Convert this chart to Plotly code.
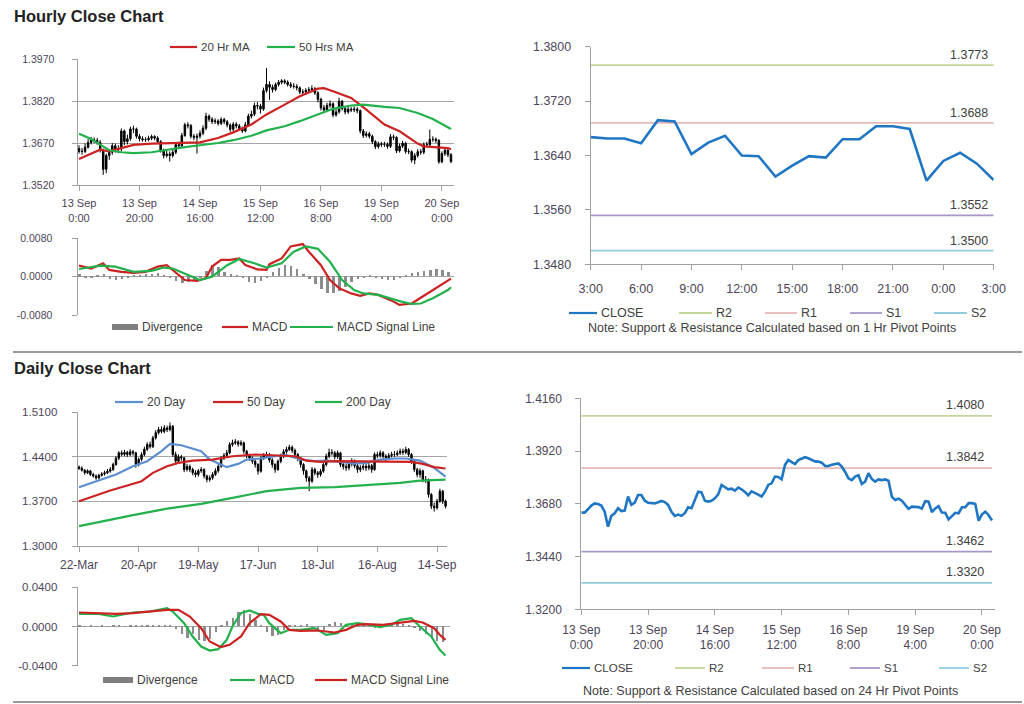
import plotly.graph_objects as go

W, H = 1024, 704
FONT = "Liberation Sans, Arial, sans-serif"
TXT = "#404040"
TICK = "#4d4559"
AX = "#a0a0a0"

# ---------------- hourly data (13 Sep 0:00 .. 20 Sep 3:00) ----------------
hourly_tick_pos = [0, 20, 40, 60, 80, 100, 120]
hourly_tick_text = ["13 Sep<br>0:00", "13 Sep<br>20:00", "14 Sep<br>16:00", "15 Sep<br>12:00",
                    "16 Sep<br>8:00", "19 Sep<br>4:00", "20 Sep<br>0:00"]
hourly_price_ticks = [1.3520, 1.3670, 1.3820, 1.3970]
hourly_macd_ticks = [-0.0080, 0.0000, 0.0080]

hourly_open = [
    1.3650, 1.3640, 1.3640, 1.3655, 1.3672, 1.3682, 1.3679, 1.3672, 1.3644, 1.3576,
    1.3625, 1.3637, 1.3660, 1.3647, 1.3649, 1.3713, 1.3675, 1.3685, 1.3720, 1.3720,
    1.3694, 1.3685, 1.3682, 1.3682, 1.3687, 1.3693, 1.3688, 1.3675, 1.3644, 1.3625,
    1.3631, 1.3625, 1.3637, 1.3664, 1.3660, 1.3697, 1.3735, 1.3732, 1.3694, 1.3690,
    1.3694, 1.3705, 1.3723, 1.3766, 1.3755, 1.3746, 1.3749, 1.3740, 1.3754, 1.3746,
    1.3734, 1.3719, 1.3737, 1.3731, 1.3722, 1.3713, 1.3735, 1.3766, 1.3773, 1.3804,
    1.3802, 1.3791, 1.3857, 1.3879, 1.3869, 1.3861, 1.3879, 1.3887, 1.3892, 1.3887,
    1.3879, 1.3873, 1.3872, 1.3867, 1.3852, 1.3852, 1.3858, 1.3861, 1.3864, 1.3849,
    1.3826, 1.3796, 1.3788, 1.3804, 1.3810, 1.3770, 1.3781, 1.3819, 1.3793, 1.3781,
    1.3791, 1.3788, 1.3791, 1.3785, 1.3713, 1.3697, 1.3703, 1.3694, 1.3675, 1.3657,
    1.3667, 1.3665, 1.3665, 1.3658, 1.3692, 1.3690, 1.3642, 1.3659, 1.3669, 1.3640,
    1.3639, 1.3609, 1.3625, 1.3639, 1.3637, 1.3664, 1.3664, 1.3683, 1.3683, 1.3679,
    1.3603, 1.3632, 1.3644, 1.3628]
hourly_high = [
    1.3662, 1.3652, 1.3668, 1.3684, 1.3692, 1.3690, 1.3688, 1.3680, 1.3650, 1.3632,
    1.3648, 1.3670, 1.3668, 1.3662, 1.3722, 1.3718, 1.3700, 1.3728, 1.3732, 1.3725,
    1.3702, 1.3694, 1.3690, 1.3696, 1.3700, 1.3698, 1.3694, 1.3680, 1.3650, 1.3642,
    1.3640, 1.3646, 1.3672, 1.3674, 1.3706, 1.3742, 1.3744, 1.3738, 1.3702, 1.3704,
    1.3715, 1.3733, 1.3778, 1.3772, 1.3762, 1.3758, 1.3755, 1.3762, 1.3760, 1.3752,
    1.3740, 1.3745, 1.3744, 1.3738, 1.3728, 1.3745, 1.3775, 1.3786, 1.3814, 1.3816,
    1.3810, 1.3868, 1.3938, 1.3890, 1.3878, 1.3886, 1.3895, 1.3898, 1.3898, 1.3894,
    1.3888, 1.3884, 1.3880, 1.3872, 1.3862, 1.3866, 1.3870, 1.3876, 1.3870, 1.3855,
    1.3832, 1.3806, 1.3814, 1.3822, 1.3815, 1.3792, 1.3832, 1.3824, 1.3800, 1.3800,
    1.3798, 1.3800, 1.3798, 1.3790, 1.3720, 1.3712, 1.3710, 1.3700, 1.3680, 1.3675,
    1.3674, 1.3674, 1.3672, 1.3702, 1.3700, 1.3694, 1.3668, 1.3678, 1.3674, 1.3650,
    1.3644, 1.3634, 1.3648, 1.3648, 1.3672, 1.3674, 1.3718, 1.3694, 1.3690, 1.3684,
    1.3640, 1.3652, 1.3650, 1.3634]
hourly_low = [
    1.3632, 1.3628, 1.3634, 1.3650, 1.3665, 1.3670, 1.3664, 1.3636, 1.3556, 1.3562,
    1.3610, 1.3628, 1.3636, 1.3634, 1.3640, 1.3662, 1.3665, 1.3678, 1.3705, 1.3686,
    1.3676, 1.3675, 1.3674, 1.3676, 1.3680, 1.3680, 1.3668, 1.3636, 1.3615, 1.3618,
    1.3604, 1.3618, 1.3630, 1.3650, 1.3655, 1.3692, 1.3722, 1.3686, 1.3680, 1.3632,
    1.3686, 1.3698, 1.3716, 1.3746, 1.3738, 1.3738, 1.3732, 1.3734, 1.3738, 1.3726,
    1.3710, 1.3712, 1.3722, 1.3714, 1.3706, 1.3708, 1.3730, 1.3758, 1.3766, 1.3790,
    1.3776, 1.3785, 1.3850, 1.3824, 1.3850, 1.3855, 1.3872, 1.3880, 1.3880, 1.3872,
    1.3866, 1.3864, 1.3858, 1.3845, 1.3842, 1.3846, 1.3850, 1.3855, 1.3842, 1.3815,
    1.3786, 1.3778, 1.3780, 1.3796, 1.3762, 1.3764, 1.3775, 1.3786, 1.3772, 1.3774,
    1.3780, 1.3780, 1.3776, 1.3704, 1.3688, 1.3690, 1.3686, 1.3666, 1.3648, 1.3650,
    1.3656, 1.3656, 1.3650, 1.3652, 1.3680, 1.3634, 1.3636, 1.3652, 1.3632, 1.3630,
    1.3600, 1.3594, 1.3618, 1.3628, 1.3630, 1.3655, 1.3658, 1.3674, 1.3670, 1.3596,
    1.3598, 1.3624, 1.3620, 1.3598]
hourly_close = [
    1.3640, 1.3640, 1.3655, 1.3672, 1.3682, 1.3679, 1.3672, 1.3644, 1.3576, 1.3625,
    1.3637, 1.3660, 1.3647, 1.3649, 1.3713, 1.3675, 1.3685, 1.3720, 1.3720, 1.3694,
    1.3685, 1.3682, 1.3682, 1.3687, 1.3693, 1.3688, 1.3675, 1.3644, 1.3625, 1.3631,
    1.3625, 1.3637, 1.3664, 1.3660, 1.3697, 1.3735, 1.3732, 1.3694, 1.3690, 1.3694,
    1.3705, 1.3723, 1.3766, 1.3755, 1.3746, 1.3749, 1.3740, 1.3754, 1.3746, 1.3734,
    1.3719, 1.3737, 1.3731, 1.3722, 1.3713, 1.3735, 1.3766, 1.3773, 1.3804, 1.3802,
    1.3791, 1.3857, 1.3879, 1.3869, 1.3861, 1.3879, 1.3887, 1.3892, 1.3887, 1.3879,
    1.3873, 1.3872, 1.3867, 1.3852, 1.3852, 1.3858, 1.3861, 1.3864, 1.3849, 1.3826,
    1.3796, 1.3788, 1.3804, 1.3810, 1.3770, 1.3781, 1.3819, 1.3793, 1.3781, 1.3791,
    1.3788, 1.3791, 1.3785, 1.3713, 1.3697, 1.3703, 1.3694, 1.3675, 1.3657, 1.3667,
    1.3665, 1.3665, 1.3658, 1.3692, 1.3690, 1.3642, 1.3659, 1.3669, 1.3640, 1.3639,
    1.3609, 1.3625, 1.3639, 1.3637, 1.3664, 1.3664, 1.3683, 1.3683, 1.3679, 1.3603,
    1.3632, 1.3644, 1.3628, 1.3604]

ma20h_idx = [0, 7, 10, 14, 18, 24, 29, 35, 40, 46, 51, 57, 62, 68, 73, 79, 81, 84, 90, 95, 101, 106, 112, 114, 117, 122, 123]
ma20h_val = [1.3613, 1.3646, 1.3640, 1.3652, 1.3663, 1.3668, 1.3670, 1.3670, 1.3672, 1.3688, 1.3708, 1.3736, 1.3772,
             1.3807, 1.3837, 1.3864, 1.3866, 1.3855, 1.3831, 1.3789, 1.3736, 1.3712, 1.3668, 1.3658, 1.3656, 1.3652, 1.3648]
ma50h_idx = [0, 4, 7, 10, 14, 18, 24, 29, 35, 40, 46, 51, 57, 62, 68, 73, 79, 84, 90, 94, 101, 106, 112, 117, 123]
ma50h_val = [1.3703, 1.3684, 1.3664, 1.3644, 1.3637, 1.3634, 1.3637, 1.3646, 1.3655, 1.3662, 1.3670, 1.3680, 1.3696,
             1.3715, 1.3730, 1.3748, 1.3771, 1.3792, 1.3804, 1.3807, 1.3799, 1.3795, 1.3777, 1.3756, 1.3720]

macdh_idx = [0, 4, 8, 10, 14, 18, 22, 26, 29, 31, 35, 39, 42, 44, 47, 50, 53, 55, 59, 62, 63, 67, 70, 74, 76, 80,
             83, 86, 90, 93, 96, 99, 103, 106, 110, 113, 117, 121, 123]
macdh_val = [0.0023, 0.0017, 0.0028, 0.0014, 0.0010, 0.0008, 0.0010, 0.0021, 0.0024, 0.0014, -0.0007, -0.0009, -0.0003,
             0.0021, 0.0035, 0.0035, 0.0038, 0.0024, 0.0015, 0.0014, 0.0026, 0.0038, 0.0063, 0.0068, 0.0052, 0.0024,
             -0.0007, -0.0024, -0.0035, -0.0040, -0.0035, -0.0038, -0.0049, -0.0059, -0.0056, -0.0044, -0.0028, -0.0013, -0.0004]
sigh_idx = [0, 7, 12, 18, 24, 28, 31, 36, 40, 44, 49, 53, 58, 62, 67, 71, 75, 79, 83, 87, 91, 94, 99, 106, 110, 113, 117, 122, 123]
sigh_val = [0.0016, 0.0023, 0.0021, 0.0010, 0.0012, 0.0019, 0.0017, 0.0003, -0.0007, 0.0000, 0.0024, 0.0037, 0.0028,
            0.0019, 0.0028, 0.0052, 0.0063, 0.0058, 0.0031, -0.0007, -0.0028, -0.0035, -0.0038, -0.0051, -0.0057,
            -0.0056, -0.0045, -0.0028, -0.0022]
divh_idx = list(range(0, 124, 2))
divh_val = [0.0004, -0.0002, -0.0003, 0.0003, 0.0004, -0.0005, -0.0007, -0.0006, -0.0003, 0.0002,
            0.0003, 0.0004, 0.0005, 0.0006, 0.0003, -0.0004, -0.0010, -0.0014, -0.0012, -0.0008,
            -0.0002, 0.0012, 0.0024, 0.0020, 0.0010, 0.0004, 0.0002, -0.0004, -0.0012, -0.0014,
            -0.0010, -0.0004, 0.0010, 0.0018, 0.0024, 0.0022, 0.0015, 0.0005, -0.0006, -0.0016,
            -0.0026, -0.0034, -0.0034, -0.0030, -0.0022, -0.0012, -0.0006, -0.0002, 0.0002, -0.0002,
            -0.0006, -0.0008, -0.0008, -0.0004, 0.0003, 0.0006, 0.0009, 0.0012, 0.0014, 0.0016,
            0.0013, 0.0010]

# ---------------- 1 Hr pivot chart (last 25 hourly closes) ----------------
pivot_hour_pos = [0, 3, 6, 9, 12, 15, 18, 21, 24]
pivot_hour_text = ["3:00", "6:00", "9:00", "12:00", "15:00", "18:00", "21:00", "0:00", "3:00"]
pivot_1h_ticks = [1.3480, 1.3560, 1.3640, 1.3720, 1.3800]
pivot_24h_ticks = [1.3200, 1.3440, 1.3680, 1.3920, 1.4160]
pivot_names = ["R2", "R1", "S1", "S2"]
pivot_colors = ["#c4d79b", "#e6b9b8", "#a896c8", "#93cddd"]
pivot_1h_levels = [1.3773, 1.3688, 1.3552, 1.3500]
pivot_24h_levels = [1.4080, 1.3842, 1.3462, 1.3320]

# ---------------- daily data (22-Mar .. 20-Sep) ----------------
daily_tick_pos = [0, 21, 42, 63, 84, 105, 126]
daily_tick_text = ["22-Mar", "20-Apr", "19-May", "17-Jun", "18-Jul", "16-Aug", "14-Sep"]
daily_price_ticks = [1.3000, 1.3700, 1.4400, 1.5100]
daily_macd_ticks = [-0.0400, 0.0000, 0.0400]

daily_open = [
    1.4240, 1.4220, 1.4190, 1.4150, 1.4180, 1.4123, 1.4100, 1.4070, 1.4110, 1.4130,
    1.4150, 1.4175, 1.4200, 1.4280, 1.4380, 1.4463, 1.4440, 1.4470, 1.4437, 1.4480,
    1.4463, 1.4280, 1.4360, 1.4437, 1.4520, 1.4594, 1.4560, 1.4698, 1.4780, 1.4829,
    1.4800, 1.4855, 1.4830, 1.4882, 1.4437, 1.4332, 1.4400, 1.4384, 1.4201, 1.4250,
    1.4201, 1.4150, 1.4123, 1.4180, 1.4201, 1.4100, 1.4044, 1.4070, 1.4123, 1.4180,
    1.4253, 1.4384, 1.4420, 1.4463, 1.4594, 1.4620, 1.4636, 1.4600, 1.4620, 1.4489,
    1.4420, 1.4384, 1.4330, 1.4280, 1.4175, 1.4384, 1.4420, 1.4437, 1.4350, 1.4280,
    1.4201, 1.4330, 1.4410, 1.4480, 1.4515, 1.4552, 1.4500, 1.4437, 1.4380, 1.4280,
    1.4180, 1.4070, 1.4018, 1.4201, 1.4150, 1.4123, 1.4175, 1.4280, 1.4410, 1.4470,
    1.4463, 1.4400, 1.4463, 1.4280, 1.4250, 1.4227, 1.4290, 1.4332, 1.4260, 1.4201,
    1.4230, 1.4253, 1.4227, 1.4260, 1.4201, 1.4437, 1.4420, 1.4463, 1.4410, 1.4384,
    1.4420, 1.4437, 1.4437, 1.4460, 1.4489, 1.4470, 1.4515, 1.4437, 1.4332, 1.4201,
    1.4123, 1.4180, 1.4044, 1.4044, 1.3808, 1.3625, 1.3599, 1.3704, 1.3861, 1.3704]
daily_high = [
    1.4265, 1.4250, 1.4210, 1.4205, 1.4195, 1.4150, 1.4125, 1.4135, 1.4160, 1.4185,
    1.4210, 1.4240, 1.4310, 1.4410, 1.4490, 1.4500, 1.4510, 1.4495, 1.4520, 1.4510,
    1.4480, 1.4390, 1.4470, 1.4560, 1.4630, 1.4640, 1.4730, 1.4820, 1.4870, 1.4880,
    1.4900, 1.4890, 1.4940, 1.4900, 1.4480, 1.4440, 1.4430, 1.4400, 1.4290, 1.4280,
    1.4230, 1.4190, 1.4210, 1.4240, 1.4220, 1.4120, 1.4110, 1.4160, 1.4220, 1.4290,
    1.4410, 1.4460, 1.4510, 1.4630, 1.4670, 1.4680, 1.4660, 1.4660, 1.4640, 1.4510,
    1.4450, 1.4410, 1.4360, 1.4300, 1.4410, 1.4460, 1.4480, 1.4460, 1.4380, 1.4300,
    1.4360, 1.4450, 1.4520, 1.4560, 1.4590, 1.4580, 1.4530, 1.4460, 1.4400, 1.4300,
    1.4200, 1.4100, 1.4240, 1.4230, 1.4180, 1.4210, 1.4310, 1.4450, 1.4530, 1.4520,
    1.4490, 1.4500, 1.4480, 1.4320, 1.4290, 1.4330, 1.4380, 1.4360, 1.4290, 1.4270,
    1.4300, 1.4290, 1.4310, 1.4290, 1.4470, 1.4480, 1.4500, 1.4490, 1.4440, 1.4460,
    1.4480, 1.4490, 1.4500, 1.4530, 1.4530, 1.4560, 1.4540, 1.4460, 1.4360, 1.4230,
    1.4220, 1.4200, 1.4100, 1.4060, 1.3830, 1.3680, 1.3740, 1.3900, 1.3880, 1.3730]
daily_low = [
    1.4195, 1.4170, 1.4120, 1.4130, 1.4100, 1.4075, 1.4040, 1.4050, 1.4090, 1.4105,
    1.4130, 1.4150, 1.4180, 1.4260, 1.4350, 1.4410, 1.4410, 1.4400, 1.4410, 1.4420,
    1.4230, 1.4250, 1.4330, 1.4410, 1.4490, 1.4530, 1.4540, 1.4670, 1.4750, 1.4770,
    1.4770, 1.4790, 1.4800, 1.4400, 1.4290, 1.4300, 1.4340, 1.4160, 1.4170, 1.4160,
    1.4110, 1.4080, 1.4090, 1.4150, 1.4060, 1.4000, 1.4010, 1.4040, 1.4100, 1.4150,
    1.4230, 1.4350, 1.4390, 1.4440, 1.4560, 1.4590, 1.4560, 1.4570, 1.4450, 1.4380,
    1.4340, 1.4290, 1.4230, 1.4120, 1.4150, 1.4350, 1.4390, 1.4310, 1.4230, 1.4150,
    1.4180, 1.4300, 1.4380, 1.4450, 1.4490, 1.4460, 1.4400, 1.4330, 1.4230, 1.4120,
    1.4010, 1.3860, 1.3990, 1.4110, 1.4070, 1.4090, 1.4150, 1.4250, 1.4380, 1.4420,
    1.4360, 1.4370, 1.4240, 1.4200, 1.4180, 1.4190, 1.4250, 1.4220, 1.4150, 1.4160,
    1.4190, 1.4180, 1.4190, 1.4150, 1.4180, 1.4380, 1.4390, 1.4370, 1.4330, 1.4350,
    1.4390, 1.4400, 1.4410, 1.4430, 1.4430, 1.4440, 1.4400, 1.4290, 1.4160, 1.4080,
    1.4070, 1.4000, 1.3990, 1.3760, 1.3580, 1.3540, 1.3570, 1.3680, 1.3660, 1.3590]
daily_close = [
    1.4220, 1.4190, 1.4150, 1.4180, 1.4123, 1.4100, 1.4070, 1.4110, 1.4130, 1.4150,
    1.4175, 1.4200, 1.4280, 1.4380, 1.4463, 1.4440, 1.4470, 1.4437, 1.4480, 1.4463,
    1.4280, 1.4360, 1.4437, 1.4520, 1.4594, 1.4560, 1.4698, 1.4780, 1.4829, 1.4800,
    1.4855, 1.4830, 1.4882, 1.4437, 1.4332, 1.4400, 1.4384, 1.4201, 1.4250, 1.4201,
    1.4150, 1.4123, 1.4180, 1.4201, 1.4100, 1.4044, 1.4070, 1.4123, 1.4180, 1.4253,
    1.4384, 1.4420, 1.4463, 1.4594, 1.4620, 1.4636, 1.4600, 1.4620, 1.4489, 1.4420,
    1.4384, 1.4330, 1.4280, 1.4175, 1.4384, 1.4420, 1.4437, 1.4350, 1.4280, 1.4201,
    1.4330, 1.4410, 1.4480, 1.4515, 1.4552, 1.4500, 1.4437, 1.4380, 1.4280, 1.4180,
    1.4070, 1.4018, 1.4201, 1.4150, 1.4123, 1.4175, 1.4280, 1.4410, 1.4470, 1.4463,
    1.4400, 1.4463, 1.4280, 1.4250, 1.4227, 1.4290, 1.4332, 1.4260, 1.4201, 1.4230,
    1.4253, 1.4227, 1.4260, 1.4201, 1.4437, 1.4420, 1.4463, 1.4410, 1.4384, 1.4420,
    1.4437, 1.4437, 1.4460, 1.4489, 1.4470, 1.4515, 1.4437, 1.4332, 1.4201, 1.4123,
    1.4180, 1.4044, 1.4044, 1.3808, 1.3625, 1.3599, 1.3704, 1.3861, 1.3704, 1.3625]

ma20d_idx = [0, 7, 13, 19, 24, 29, 32, 36, 39, 43, 46, 50, 52, 56, 59, 64, 69, 73, 78, 83, 87, 92, 97, 101, 106, 111, 115, 120, 125, 129]
ma20d_val = [1.3924, 1.4028, 1.4123, 1.4253, 1.4332, 1.4489, 1.4604, 1.4583, 1.4541, 1.4489, 1.4358, 1.4280, 1.4238,
             1.4290, 1.4358, 1.4374, 1.4410, 1.4426, 1.4358, 1.4332, 1.4342, 1.4321, 1.4295, 1.4306, 1.4358, 1.4374,
             1.4374, 1.4342, 1.4227, 1.4090]
ma50d_idx = [0, 5, 11, 17, 22, 26, 31, 35, 40, 47, 54, 62, 69, 76, 80, 85, 90, 97, 104, 111, 117, 121, 125, 129]
ma50d_val = [1.3704, 1.3782, 1.3871, 1.3950, 1.4018, 1.4149, 1.4253, 1.4306, 1.4342, 1.4358, 1.4410, 1.4437, 1.4421,
             1.4410, 1.4342, 1.4321, 1.4332, 1.4332, 1.4321, 1.4321, 1.4321, 1.4290, 1.4238, 1.4217]
ma200d_idx = [0, 7, 19, 31, 43, 54, 66, 78, 90, 101, 113, 120, 129]
ma200d_val = [1.3311, 1.3379, 1.3484, 1.3588, 1.3662, 1.3756, 1.3861, 1.3913, 1.3924, 1.3955, 1.3992, 1.4028, 1.4044]

macdd_idx = [0, 7, 12, 19, 25, 31, 33, 37, 40, 43, 46, 49, 52, 54, 57, 60, 63, 65, 67, 71, 74, 78, 83, 87, 91, 94,
             98, 101, 106, 110, 113, 117, 120, 124, 127, 129]
macdd_val = [0.0129, 0.0129, 0.0102, 0.0143, 0.0153, 0.0187, 0.0153, 0.0034, -0.0102, -0.0204, -0.0245, -0.0231,
             -0.0136, 0.0000, 0.0136, 0.0163, 0.0129, 0.0119, 0.0034, -0.0068, -0.0034, -0.0034, -0.0017, -0.0085,
             -0.0068, 0.0017, 0.0034, 0.0024, -0.0007, 0.0017, 0.0068, 0.0085, 0.0000, -0.0102, -0.0238, -0.0295]
sigd_idx = [0, 7, 13, 19, 25, 31, 35, 39, 43, 46, 50, 53, 57, 60, 64, 67, 71, 74, 78, 84, 90, 94, 98, 101, 107,
            113, 118, 121, 125, 127, 129]
sigd_val = [0.0143, 0.0136, 0.0129, 0.0136, 0.0153, 0.0170, 0.0170, 0.0102, -0.0017, -0.0153, -0.0211, -0.0187,
            -0.0102, 0.0034, 0.0126, 0.0119, 0.0051, -0.0034, -0.0044, -0.0041, -0.0061, -0.0034, 0.0017, 0.0024,
            0.0017, 0.0041, 0.0058, 0.0041, -0.0017, -0.0085, -0.0136]
divd_idx = list(range(0, 130, 2))
divd_val = [0.0005, -0.0005, 0.0003, -0.0004, 0.0006, -0.0006, 0.0004, 0.0005, -0.0003, 0.0004,
            0.0006, 0.0005, 0.0008, 0.0010, 0.0006, 0.0012, 0.0010, -0.0030, -0.0080, -0.0120,
            -0.0080, -0.0140, -0.0155, -0.0130, -0.0060, 0.0010, 0.0050, 0.0080, 0.0140, 0.0170,
            0.0120, 0.0060, 0.0010, -0.0060, -0.0100, -0.0090, -0.0040, 0.0010, 0.0008, 0.0012,
            0.0020, -0.0020, -0.0030, -0.0040, 0.0025, 0.0040, 0.0035, 0.0020, 0.0010, 0.0008,
            0.0005, -0.0008, -0.0010, 0.0008, 0.0015, 0.0020, 0.0028, 0.0022, 0.0010, -0.0020,
            -0.0050, -0.0080, -0.0110, -0.0150, -0.0160]

# ---------------- colours ----------------
RED = "#cc2222"
GREEN = "#22b14c"
LBLUE = "#5b8fd0"
CLOSE_BLUE = "#1f77c4"
GRAY = "#8c8c8c"

hourly_idx = list(range(len(hourly_close)))
daily_idx = list(range(len(daily_close)))
pivot_close = hourly_close[-25:]
pivot_idx = list(range(len(pivot_close)))


def dx(a, b):
    return [a / W, b / W]


def dy(top, bottom):
    return [1 - bottom / H, 1 - top / H]


def fmt(vals):
    return [f"{v:.4f}" for v in vals]


fig = go.Figure()

candle_style = dict(
    increasing=dict(line=dict(color="#000000", width=1), fillcolor="#000000"),
    decreasing=dict(line=dict(color="#000000", width=1), fillcolor="#000000"),
    whiskerwidth=0, showlegend=False, hoverinfo="skip")

# hourly candles + MAs
fig.add_trace(go.Candlestick(x=hourly_idx, open=hourly_open, high=hourly_high, low=hourly_low,
                             close=hourly_close, xaxis="x", yaxis="y", **candle_style))
fig.add_trace(go.Scatter(x=ma20h_idx, y=ma20h_val, mode="lines", line=dict(color=RED, width=2.2),
                         xaxis="x", yaxis="y", showlegend=False))
fig.add_trace(go.Scatter(x=ma50h_idx, y=ma50h_val, mode="lines", line=dict(color=GREEN, width=2.2),
                         xaxis="x", yaxis="y", showlegend=False))

# hourly MACD
fig.add_trace(go.Bar(x=divh_idx, y=divh_val, marker=dict(color=GRAY, line=dict(width=0)), width=0.8,
                     xaxis="x2", yaxis="y2", showlegend=False))
fig.add_trace(go.Scatter(x=macdh_idx, y=macdh_val, mode="lines", line=dict(color=RED, width=2.2),
                         xaxis="x2", yaxis="y2", showlegend=False))
fig.add_trace(go.Scatter(x=sigh_idx, y=sigh_val, mode="lines", line=dict(color=GREEN, width=2.2),
                         xaxis="x2", yaxis="y2", showlegend=False))

# daily candles + MAs
fig.add_trace(go.Candlestick(x=daily_idx, open=daily_open, high=daily_high, low=daily_low,
                             close=daily_close, xaxis="x3", yaxis="y3", **candle_style))
fig.add_trace(go.Scatter(x=ma20d_idx, y=ma20d_val, mode="lines", line=dict(color=LBLUE, width=2.2),
                         xaxis="x3", yaxis="y3", showlegend=False))
fig.add_trace(go.Scatter(x=ma50d_idx, y=ma50d_val, mode="lines", line=dict(color=RED, width=2.2),
                         xaxis="x3", yaxis="y3", showlegend=False))
fig.add_trace(go.Scatter(x=ma200d_idx, y=ma200d_val, mode="lines", line=dict(color=GREEN, width=2.2),
                         xaxis="x3", yaxis="y3", showlegend=False))

# daily MACD
fig.add_trace(go.Bar(x=divd_idx, y=divd_val, marker=dict(color=GRAY, line=dict(width=0)), width=0.8,
                     xaxis="x4", yaxis="y4", showlegend=False))
fig.add_trace(go.Scatter(x=macdd_idx, y=macdd_val, mode="lines", line=dict(color=GREEN, width=2.2),
                         xaxis="x4", yaxis="y4", showlegend=False))
fig.add_trace(go.Scatter(x=sigd_idx, y=sigd_val, mode="lines", line=dict(color=RED, width=2.2),
                         xaxis="x4", yaxis="y4", showlegend=False))

annotations = []
shapes = []

# 1 Hr pivot chart
for name, col, lvl in zip(pivot_names, pivot_colors, pivot_1h_levels):
    fig.add_trace(go.Scatter(x=[pivot_idx[0], pivot_idx[-1]], y=[lvl, lvl], mode="lines",
                             line=dict(color=col, width=1.8), xaxis="x5", yaxis="y5", showlegend=False))
    annotations.append(dict(text=f"{lvl:.4f}", xref="x5", yref="y5", x=pivot_idx[-1] - 1.5, y=lvl, yshift=10,
                            xanchor="center", showarrow=False, font=dict(family=FONT, size=12.5, color=TXT)))
fig.add_trace(go.Scatter(x=pivot_idx, y=pivot_close, mode="lines", line=dict(color=CLOSE_BLUE, width=2.6),
                         xaxis="x5", yaxis="y5", showlegend=False))

# 24 Hr pivot chart
for name, col, lvl in zip(pivot_names, pivot_colors, pivot_24h_levels):
    fig.add_trace(go.Scatter(x=[hourly_idx[0], hourly_idx[-1]], y=[lvl, lvl], mode="lines",
                             line=dict(color=col, width=1.8), xaxis="x6", yaxis="y6", showlegend=False))
    annotations.append(dict(text=f"{lvl:.4f}", xref="x6", yref="y6", x=hourly_idx[-1] - 8, y=lvl, yshift=11,
                            xanchor="center", showarrow=False, font=dict(family=FONT, size=12.5, color=TXT)))
fig.add_trace(go.Scatter(x=hourly_idx, y=hourly_close, mode="lines", line=dict(color=CLOSE_BLUE, width=2.6),
                         xaxis="x6", yaxis="y6", showlegend=False))


def legend_item(label, color, x0, x1, y, size=11.5, width=2.2):
    shapes.append(dict(type="line", xref="paper", yref="paper", x0=x0 / W, x1=x1 / W,
                       y0=1 - y / H, y1=1 - y / H, line=dict(color=color, width=width)))
    annotations.append(dict(text=label, xref="paper", yref="paper", x=(x1 + 2) / W, y=1 - y / H,
                            xanchor="left", yanchor="middle", showarrow=False,
                            font=dict(family=FONT, size=size, color=TXT)))


legend_item("20 Hr MA", RED, 170, 197, 47)
legend_item("50 Hrs MA", GREEN, 267, 295, 47)
legend_item("Divergence", "#7f7f7f", 112, 138, 327, size=12, width=6)
legend_item("MACD", RED, 222, 248, 327, size=12)
legend_item("MACD Signal Line", GREEN, 290, 333, 327, size=12)
legend_item("20 Day", LBLUE, 115, 143, 402, size=12)
legend_item("50 Day", RED, 213, 243, 402, size=12)
legend_item("200 Day", GREEN, 315, 342, 402, size=12)
legend_item("Divergence", "#7f7f7f", 103, 133, 680, size=12, width=6)
legend_item("MACD", GREEN, 230, 255, 680, size=12)
legend_item("MACD Signal Line", RED, 315, 347, 680, size=12)
legend_item("CLOSE", CLOSE_BLUE, 569, 597, 313, size=12.5)
for name, col, x0, x1 in zip(pivot_names, pivot_colors, [679, 765, 850, 934], [712, 797, 882, 967]):
    legend_item(name, col, x0, x1, 313, size=12.5, width=1.8)
legend_item("CLOSE", CLOSE_BLUE, 562, 590, 668, size=11.5)
for name, col, x0, x1 in zip(pivot_names, pivot_colors, [675, 762, 850, 939], [705, 794, 880, 969]):
    legend_item(name, col, x0, x1, 668, size=11.5, width=1.8)

annotations.append(dict(text="Note: Support & Resistance Calculated based on 1 Hr Pivot Points", xref="paper",
                        yref="paper", x=772 / W, y=1 - 328 / H, xanchor="center", yanchor="middle",
                        showarrow=False, font=dict(family=FONT, size=12.5, color=TXT)))
annotations.append(dict(text="Note: Support & Resistance Calculated based on 24 Hr Pivot Points", xref="paper",
                        yref="paper", x=770 / W, y=1 - 691 / H, xanchor="center", yanchor="middle",
                        showarrow=False, font=dict(family=FONT, size=12.5, color=TXT)))
annotations.append(dict(text="<b>Hourly Close Chart</b>", xref="paper", yref="paper", x=12 / W, y=1 - 16 / H,
                        xanchor="left", yanchor="middle", showarrow=False,
                        font=dict(family=FONT, size=16.5, color="#222222")))
annotations.append(dict(text="<b>Daily Close Chart</b>", xref="paper", yref="paper", x=12 / W, y=1 - 368 / H,
                        xanchor="left", yanchor="middle", showarrow=False,
                        font=dict(family=FONT, size=16.5, color="#222222")))

for ysep in (352, 702):
    shapes.append(dict(type="line", xref="paper", yref="paper", x0=13 / W, x1=1022 / W,
                       y0=1 - ysep / H, y1=1 - ysep / H, line=dict(color="#9a9a9a", width=2)))


def xax(domain, rng, anchor, tickvals=None, ticktext=None, size=11, show=True, **kw):
    d = dict(domain=domain, range=rng, anchor=anchor, showgrid=False, zeroline=False, automargin=False,
             showline=show, linecolor=AX, linewidth=1, ticks="outside" if show else "",
             ticklen=5, tickcolor=AX, tickmode="array", tickvals=tickvals or [], ticktext=ticktext or [],
             tickfont=dict(family=FONT, size=size, color=TICK), showticklabels=show,
             ticklabelstandoff=3, fixedrange=True)
    d.update(kw)
    return d


def yax(domain, rng, anchor, ticks, grid=True, size=10.5, standoff=14, **kw):
    d = dict(domain=domain, range=rng, anchor=anchor, tickmode="array", tickvals=ticks, ticktext=fmt(ticks),
             showgrid=grid, gridcolor="#a6a6a6", gridwidth=1, zeroline=False, automargin=False,
             showline=True, linecolor=AX, linewidth=1, ticks="outside", ticklen=5, tickcolor=AX,
             tickfont=dict(family=FONT, size=size, color=TICK), ticklabelstandoff=standoff, fixedrange=True)
    d.update(kw)
    return d


fig.update_layout(
    template="none",
    width=W, height=H, margin=dict(l=0, r=0, t=0, b=0, pad=0, autoexpand=False),
    font=dict(family=FONT, color=TXT),
    paper_bgcolor="white", plot_bgcolor="white", showlegend=False, bargap=0,
    xaxis=xax(dx(77.5, 454), [-0.5, 124], "y", hourly_tick_pos, hourly_tick_text, size=11,
              rangeslider=dict(visible=False)),
    yaxis=yax(dy(59, 185), [hourly_price_ticks[0], hourly_price_ticks[-1]], "x", hourly_price_ticks,
              size=10.5, standoff=15),
    xaxis2=xax(dx(77.5, 454), [-0.5, 124], "y2", show=False),
    yaxis2=yax(dy(238.3, 315), [hourly_macd_ticks[0], hourly_macd_ticks[-1]], "x2", hourly_macd_ticks,
               size=10.5, standoff=17),
    xaxis3=xax(dx(77.6, 447), [-0.5, 129.5], "y3", daily_tick_pos, daily_tick_text, size=12,
               rangeslider=dict(visible=False)),
    yaxis3=yax(dy(412.3, 546), [daily_price_ticks[0], daily_price_ticks[-1]], "x3", daily_price_ticks,
               size=11.5, standoff=12),
    xaxis4=xax(dx(77.6, 450), [-0.5, 130.6], "y4", show=False),
    yaxis4=yax(dy(587.3, 665.7), [daily_macd_ticks[0], daily_macd_ticks[-1]], "x4", daily_macd_ticks,
               size=11.5, standoff=12),
    xaxis5=xax(dx(590.7, 993.7), [0, 24], "y5", pivot_hour_pos, pivot_hour_text, size=12.5,
               ticklabelstandoff=8),
    yaxis5=yax(dy(46.7, 264.3), [pivot_1h_ticks[0], pivot_1h_ticks[-1]], "x5", pivot_1h_ticks, grid=False,
               size=12.5, standoff=11),
    xaxis6=xax(dx(581.3, 995), [0, 123.9], "y6", hourly_tick_pos, hourly_tick_text, size=12,
               ticklabelstandoff=4),
    yaxis6=yax(dy(398.3, 609.3), [pivot_24h_ticks[0], pivot_24h_ticks[-1]], "x6", pivot_24h_ticks, grid=False,
               size=12, standoff=11),
    annotations=annotations, shapes=shapes,
)

fig.write_html("out.html", config=dict(displayModeBar=False),
               post_script="document.body.style.margin='0';document.body.style.overflow='hidden';")
